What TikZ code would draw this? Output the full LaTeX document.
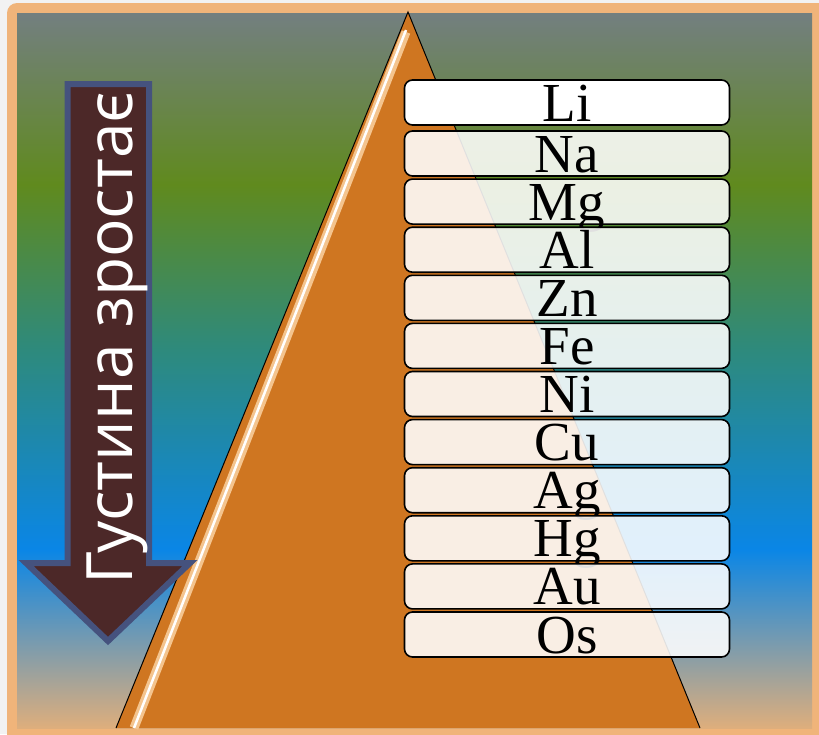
\documentclass[tikz,border=0pt]{standalone}
\usepackage{fontspec}
\setmainfont{Liberation Serif}
\newfontfamily\arrowfont{Open Sans}
\usetikzlibrary{positioning}
\definecolor{PageGrey}{HTML}{F2F2F2}
\definecolor{FrameOrange}{HTML}{F0B47A}
\definecolor{SlateGrey}{HTML}{737F80}
\definecolor{LeafGreen}{HTML}{608A1E}
\definecolor{TealMid}{HTML}{2E8A7C}
\definecolor{SeaBlue}{HTML}{0A86E6}
\definecolor{SandTan}{HTML}{DEAE7C}
\definecolor{PyramidOrange}{HTML}{CF7621}
\definecolor{GlowOrange}{HTML}{F4C48E}
\definecolor{ArrowBrown}{HTML}{4C2828}
\definecolor{ArrowEdge}{HTML}{45527E}
\pgfdeclareverticalshading{skyfade}{100bp}{color(0bp)=(SandTan); color(25bp)=(SandTan); color(37.5bp)=(SeaBlue); color(51.5bp)=(TealMid); color(63bp)=(LeafGreen); color(75bp)=(SlateGrey); color(100bp)=(SlateGrey)}

\begin{document}
\begin{tikzpicture}[x=1pt, y=-1pt,
                    node distance=1.5pt,
                    metal/.style={rectangle, rounded corners=8pt, draw=black, line width=1.6pt, fill=white, fill opacity=0.88, text opacity=1, font=\fontsize{55}{55}\selectfont, minimum width=325pt, minimum height=45pt, text height=37pt, text depth=0pt, inner ysep=4pt},
                    density/.style={rotate=90, anchor=base, text=white, font=\arrowfont\fontsize{64}{64}\selectfont}
                ]
    \useasboundingbox (0,0) rectangle (819,734);
    \fill[PageGrey] (0,0) rectangle (819,734);
    \fill[FrameOrange, rounded corners=10pt] (7,3) rectangle (840,760);
    \fill[shading=skyfade] (17,13) rectangle (812,728);

    % pyramid
    \fill[PyramidOrange] (408,12) -- (700,728) -- (116,728) -- cycle;
    \draw[GlowOrange, line width=9pt] (406,32) -- (134,728);
    \draw[white, line width=2.5pt] (406,30) -- (134,728);
    \draw[black, line width=1pt] (116,728) -- (408,12) -- (700,728);

    % arrow
    \draw[ArrowEdge, fill=ArrowBrown, line width=6pt, miter limit=4]
        (67.5,84) -- (149,84) -- (149,563) -- (190,563) -- (108,641) -- (26,563) -- (67.5,563) -- cycle;
    \node[density] (dens) at (132,338) {Густина зростає};

    % metals
    \node[metal, fill opacity=1] (li) at (567,102.5) {Li};
    \node[metal, below=4.4pt of li] (na) {Na};
    \node[metal, below=of na] (mg) {Mg};
    \node[metal, below=of mg] (al) {Al};
    \node[metal, below=of al] (zn) {Zn};
    \node[metal, below=of zn] (fe) {Fe};
    \node[metal, below=of fe] (ni) {Ni};
    \node[metal, below=of ni] (cu) {Cu};
    \node[metal, below=of cu] (ag) {Ag};
    \node[metal, below=of ag] (hg) {Hg};
    \node[metal, below=of hg] (au) {Au};
    \node[metal, below=of au] (os) {Os};
\end{tikzpicture}
\end{document}
